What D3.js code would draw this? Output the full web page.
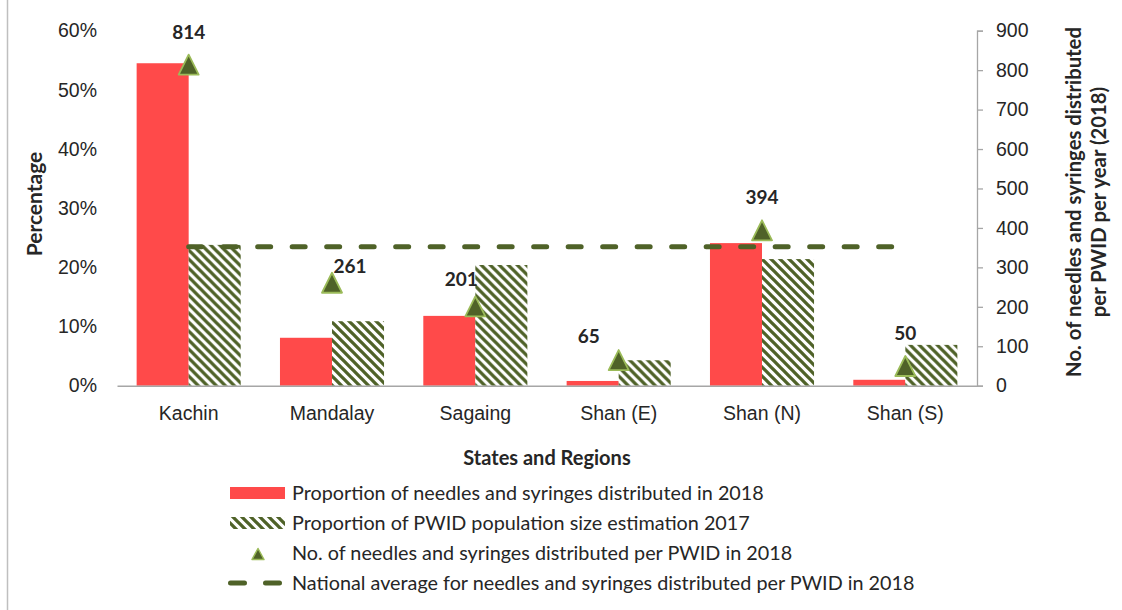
<!DOCTYPE html>
<html>
<head>
<meta charset="utf-8">
<script src="https://cdn.jsdelivr.net/npm/d3@7"></script>
<style>
  html, body { margin: 0; padding: 0; background: #fff; }
  svg { display: block; font-family: Lato, "Open Sans", sans-serif; }
</style>
</head>
<body>
<svg id="chart" width="1122" height="610"></svg>
<script>
// Data
const regions = ["Kachin", "Mandalay", "Sagaing", "Shan (E)", "Shan (N)", "Shan (S)"];
const needlesShare = [0.545, 0.081, 0.118, 0.008, 0.241, 0.010];   // proportion of needles & syringes distributed, 2018
const pwidShare = [0.238, 0.109, 0.204, 0.043, 0.214, 0.069];      // proportion of PWID population size estimate, 2017
const perPwid = [814, 261, 201, 65, 394, 50];                      // needles & syringes per PWID, 2018
const nationalAverage = 352;                                       // national average per PWID, 2018
const percentTicks = [0, 0.1, 0.2, 0.3, 0.4, 0.5, 0.6];
const countTicks = [0, 100, 200, 300, 400, 500, 600, 700, 800, 900];

const seriesNames = [
  "Proportion of needles and syringes distributed in 2018",
  "Proportion of PWID population size estimation 2017",
  "No. of needles and syringes distributed per PWID in 2018",
  "National average for needles and syringes distributed per PWID in 2018"
];

// Label nudges (px) for value labels that sit off the default spot above the marker
const labelNudge = [[0, 0], [18, 16], [-14, 6], [-30, 9], [0, 0], [0, 0]];

const RED = "#FF4A4A";
const OLIVE = "#4F6228";
const LIGHT_GREEN = "#9BBB59";
const AXIS = "#A6A6A6";
const TEXT = "#262626";
const TICK_FONT = 19.5;
const TITLE_FONT = 20;

const svg = d3.select("#chart");

// Hatch pattern: wide downward diagonal stripes
const defs = svg.append("defs");
const P = 9;
const pat = defs.append("pattern")
  .attr("id", "hatch")
  .attr("patternUnits", "userSpaceOnUse")
  .attr("width", P).attr("height", P);
pat.append("rect").attr("width", P).attr("height", P).attr("fill", "#fff");
pat.append("path")
  .attr("d", `M-2,-2 L${P + 2},${P + 2} M-2,${P - 2} L2,${P + 2} M${P - 2},-2 L${P + 2},2`)
  .attr("stroke", OLIVE)
  .attr("stroke-width", 3.3);

// Outer frame edge on the left
svg.append("line")
  .attr("x1", 7.5).attr("x2", 7.5)
  .attr("y1", 0).attr("y2", 610)
  .attr("stroke", "#BFBFBF").attr("stroke-width", 1.5);

const plot = { left: 117, right: 977, top: 30.7, bottom: 385.7 };

const x0 = d3.scaleBand()
  .domain(regions)
  .range([plot.left, plot.right])
  .paddingInner(0.274)
  .paddingOuter(0.137);
const x1 = d3.scaleBand()
  .domain([0, 1])
  .range([0, x0.bandwidth()]);
const yL = d3.scaleLinear().domain([0, 0.6]).range([plot.bottom, plot.top]);
const yR = d3.scaleLinear().domain([0, 900]).range([plot.bottom, plot.top]);
const cx = r => x0(r) + x0.bandwidth() / 2;

// Left axis (percent), labels only
const leftAxis = svg.append("g")
  .attr("transform", `translate(${plot.left},0)`)
  .call(d3.axisLeft(yL).tickValues(percentTicks).tickFormat(d3.format(".0%")).tickSize(0).tickPadding(20));
leftAxis.select(".domain").remove();
leftAxis.selectAll("text").attr("fill", TEXT).attr("font-size", TICK_FONT);

// Right axis (count)
const rightAxis = svg.append("g")
  .attr("transform", `translate(${plot.right},0)`)
  .call(d3.axisRight(yR).tickValues(countTicks).tickSize(6).tickPadding(13).tickSizeOuter(6));
rightAxis.select(".domain").attr("stroke", AXIS).attr("stroke-width", 1.3);
rightAxis.selectAll(".tick line").attr("stroke", AXIS).attr("stroke-width", 1.3);
rightAxis.selectAll("text").attr("fill", TEXT).attr("font-size", TICK_FONT);

// Bars
const groups = svg.append("g").selectAll("g")
  .data(regions)
  .join("g")
  .attr("transform", d => `translate(${x0(d)},0)`);

groups.append("rect")
  .attr("x", x1(0))
  .attr("width", x1.bandwidth())
  .attr("y", (d, i) => yL(needlesShare[i]))
  .attr("height", (d, i) => plot.bottom - yL(needlesShare[i]))
  .attr("fill", RED);

groups.append("rect")
  .attr("x", x1(1))
  .attr("width", x1.bandwidth())
  .attr("y", (d, i) => yL(pwidShare[i]))
  .attr("height", (d, i) => plot.bottom - yL(pwidShare[i]))
  .attr("fill", "url(#hatch)");

// Category axis
const bottomAxis = svg.append("g")
  .attr("transform", `translate(0,${plot.bottom})`)
  .call(d3.axisBottom(x0).tickSize(0).tickSizeOuter(0).tickPadding(20));
bottomAxis.select(".domain").attr("stroke", AXIS).attr("stroke-width", 1.5);
bottomAxis.selectAll("text").attr("fill", TEXT).attr("font-size", TICK_FONT);

// National average dashed line
svg.append("path")
  .datum(regions)
  .attr("d", d3.line().x(d => cx(d)).y(() => yR(nationalAverage)))
  .attr("fill", "none")
  .attr("stroke", OLIVE)
  .attr("stroke-width", 5)
  .attr("stroke-linecap", "round")
  .attr("stroke-dasharray", "13 21.5");

// Triangle markers (slightly taller than equilateral)
const triangle = (w, h) => `M0,${-h / 2}L${w / 2},${h / 2}L${-w / 2},${h / 2}Z`;
svg.append("g").selectAll("path")
  .data(regions)
  .join("path")
  .attr("d", triangle(20, 20))
  .attr("transform", (d, i) => `translate(${cx(d)},${yR(perPwid[i])})`)
  .attr("fill", OLIVE)
  .attr("stroke", LIGHT_GREEN)
  .attr("stroke-width", 1.8)
  .attr("stroke-linejoin", "round");

// Value labels
svg.append("g").selectAll("text")
  .data(regions)
  .join("text")
  .attr("x", (d, i) => cx(d) + labelNudge[i][0])
  .attr("y", (d, i) => yR(perPwid[i]) - 26 + labelNudge[i][1])
  .attr("text-anchor", "middle")
  .attr("font-weight", "bold")
  .attr("font-size", 19)
  .attr("fill", TEXT)
  .text((d, i) => perPwid[i]);

// Axis titles
svg.append("text")
  .attr("transform", `translate(42,204) rotate(-90)`)
  .attr("text-anchor", "middle")
  .attr("font-weight", "bold")
  .attr("font-size", 21)
  .attr("fill", TEXT)
  .text("Percentage");

const rTitle = svg.append("text")
  .attr("transform", `translate(1081,202) rotate(-90)`)
  .attr("text-anchor", "middle")
  .attr("font-weight", "bold")
  .attr("font-size", 20.3)
  .attr("fill", TEXT);
rTitle.append("tspan").attr("x", 0).attr("dy", 0).text("No. of needles and syringes distributed");
rTitle.append("tspan").attr("x", 0).attr("dy", 25).text("per PWID per year (2018)");

svg.append("text")
  .attr("x", (plot.left + plot.right) / 2)
  .attr("y", 465)
  .attr("text-anchor", "middle")
  .attr("font-weight", "bold")
  .attr("font-size", TITLE_FONT)
  .attr("fill", TEXT)
  .text("States and Regions");

// Legend
const legend = svg.append("g").attr("transform", "translate(230,493)");
const rowH = 30;
const rows = legend.selectAll("g").data(seriesNames).join("g")
  .attr("transform", (d, i) => `translate(0,${i * rowH})`);

rows.filter((d, i) => i === 0).append("rect")
  .attr("x", 0).attr("y", -6).attr("width", 55).attr("height", 12).attr("fill", RED);
rows.filter((d, i) => i === 1).append("rect")
  .attr("x", 0).attr("y", -6).attr("width", 55).attr("height", 12).attr("fill", "url(#hatch)");
rows.filter((d, i) => i === 2).append("path")
  .attr("d", triangle(12, 11))
  .attr("transform", "translate(28,1)")
  .attr("fill", OLIVE).attr("stroke", LIGHT_GREEN).attr("stroke-width", 1.5)
  .attr("stroke-linejoin", "round");
rows.filter((d, i) => i === 3).append("line")
  .attr("x1", 0.5).attr("x2", 49.5).attr("y1", 0).attr("y2", 0)
  .attr("stroke", OLIVE).attr("stroke-width", 5).attr("stroke-linecap", "round")
  .attr("stroke-dasharray", "14 21");

rows.append("text")
  .attr("x", 62)
  .attr("y", 0)
  .attr("dy", "0.35em")
  .attr("font-size", 19.8)
  .attr("fill", TEXT)
  .text(d => d);
</script>
</body>
</html>
